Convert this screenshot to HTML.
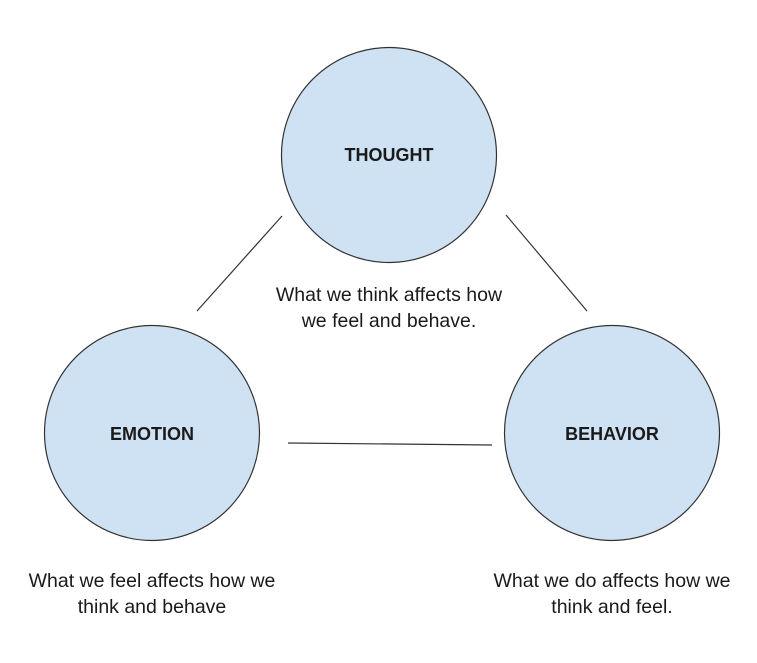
<!DOCTYPE html>
<html><head><style>
html,body{margin:0;padding:0;background:#fff;}
svg{display:block;}
text{font-family:"Liberation Sans",Arial,sans-serif;fill:#1a1a1a;}
.t{font-size:19.5px;text-anchor:middle;}
.b{font-size:18px;font-weight:bold;text-anchor:middle;}
</style></head><body>
<svg width="757" height="663" viewBox="0 0 757 663">
<g fill="#cfe2f3" stroke="#333" stroke-width="1.2">
<circle cx="389" cy="155" r="107.5"/>
<circle cx="152" cy="433" r="107.5"/>
<circle cx="612" cy="433" r="107.5"/>
</g>
<g stroke="#333" stroke-width="1.2">
<line x1="282" y1="216" x2="197" y2="311"/>
<line x1="506" y1="215" x2="587" y2="311"/>
<line x1="288" y1="443" x2="492" y2="445"/>
</g>
<text class="b" x="389" y="161">THOUGHT</text>
<text class="b" x="152" y="440">EMOTION</text>
<text class="b" x="612" y="440">BEHAVIOR</text>
<text class="t" x="389" y="301">What we think affects how</text>
<text class="t" x="389" y="327">we feel and behave.</text>
<text class="t" x="152" y="587">What we feel affects how we</text>
<text class="t" x="152" y="613">think and behave</text>
<text class="t" x="612" y="587">What we do affects how we</text>
<text class="t" x="612" y="613">think and feel.</text>
</svg>
</body></html>
